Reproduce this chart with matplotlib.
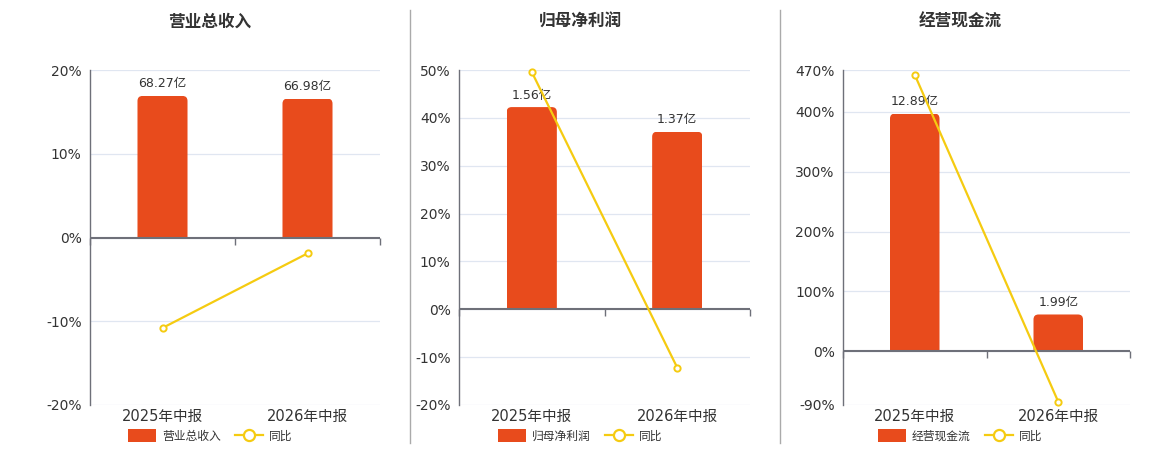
import matplotlib
matplotlib.use("Agg")
import matplotlib.pyplot as plt
from matplotlib.patches import Patch, FancyBboxPatch, Rectangle
from matplotlib.lines import Line2D

plt.rcParams['font.family'] = ['DejaVu Sans', 'Noto Sans CJK SC']

# 数据
periods = ['2025年中报', '2026年中报']
titles = ['营业总收入', '归母净利润', '经营现金流']
bar_values = [[68.27, 66.98], [1.56, 1.37], [12.89, 1.99]]
bar_labels = [['68.27亿', '66.98亿'], ['1.56亿', '1.37亿'], ['12.89亿', '1.99亿']]
yoy_values = [[-10.8, -1.9], [49.6, -12.2], [462.0, -84.6]]
pct_ticks = [[-20, -10, 0, 10, 20],
             [-20, -10, 0, 10, 20, 30, 40, 50],
             [-90, 0, 100, 200, 300, 400, 470]]

# 样式
BAR_COLOR = '#E84B1C'
LINE_COLOR = '#F5CB11'
AXIS_COLOR = '#6E7079'
GRID_COLOR = '#E0E6F1'
TEXT_COLOR = '#333333'

W, H = 1160, 450
panel_px = [(90, 380), (459, 750), (843, 1130)]
center_px = [210, 580, 960]
top_px, bottom_px = 70, 405
BAR_W = 0.345
RADIUS_PX = 5


def rounded_bars(ax, bars, px_w, px_h):
    """把普通柱子换成顶部圆角的柱子"""
    x0, x1 = ax.get_xlim()
    y0, y1 = ax.get_ylim()
    ux = (x1 - x0) / px_w
    uy = (y1 - y0) / px_h
    for b in bars:
        b.set_visible(False)
        bx, bw, bh = b.get_x(), b.get_width(), b.get_height()
        r = RADIUS_PX * ux
        p = FancyBboxPatch((bx, 0 - 2 * RADIUS_PX * uy), bw, bh + 2 * RADIUS_PX * uy,
                           boxstyle=f'round,pad=0,rounding_size={r}',
                           mutation_aspect=uy / ux, facecolor=b.get_facecolor(),
                           edgecolor='none')
        ax.add_patch(p)
        clip = Rectangle((bx, 0), bw, bh, transform=ax.transData)
        p.set_clip_path(clip)


fig = plt.figure(figsize=(W / 100, H / 100), dpi=100, facecolor='white')

for i in range(3):
    x0, x1 = panel_px[i]
    rect = [x0 / W, 1 - bottom_px / H, (x1 - x0) / W, (bottom_px - top_px) / H]
    ticks = pct_ticks[i]
    ymin, ymax = ticks[0], ticks[-1]

    # 底层：百分比坐标轴、网格
    ax = fig.add_axes(rect)
    ax.set_xlim(-0.5, 1.5)
    ax.set_ylim(ymin, ymax)
    ax.set_yticks(ticks)
    ax.set_yticklabels([f'{t}%' for t in ticks])
    ax.set_xticks(range(len(periods)))
    ax.set_xticklabels(periods)
    ax.tick_params(axis='x', length=0, labelsize=10.5, labelcolor=TEXT_COLOR, pad=3)
    ax.tick_params(axis='y', length=0, labelsize=10, labelcolor=TEXT_COLOR, pad=6)
    ax.grid(axis='y', color=GRID_COLOR, linewidth=0.9)
    for s in ['top', 'right', 'bottom']:
        ax.spines[s].set_visible(False)
    ax.spines['left'].set_color(AXIS_COLOR)
    ax.spines['left'].set_linewidth(1)

    # 中层：柱子（隐藏刻度，零点与百分比轴对齐）
    ax2 = ax.twinx()
    k = 0.845 * ymax / max(bar_values[i])
    ax2.set_ylim(ymin / k, ymax / k)
    ax2.axis('off')
    bars = ax2.bar(range(len(periods)), bar_values[i], width=BAR_W, color=BAR_COLOR)
    rounded_bars(ax2, bars, x1 - x0, bottom_px - top_px)
    for b, lab in zip(bars, bar_labels[i]):
        ax2.annotate(lab, (b.get_x() + b.get_width() / 2, b.get_height()),
                     xytext=(0, 4), textcoords='offset points',
                     ha='center', va='bottom', fontsize=9, color=TEXT_COLOR)

    # 顶层：零轴线与同比折线
    ax3 = ax.twinx()
    ax3.set_ylim(ymin, ymax)
    ax3.axis('off')
    ax3.axhline(0, color=AXIS_COLOR, linewidth=1.5)
    ax3.plot([-0.5, 0.5, 1.5], [0, 0, 0], linestyle='none', marker=3,
             markersize=5, color=AXIS_COLOR, clip_on=False)
    ax3.plot(range(len(periods)), yoy_values[i], color=LINE_COLOR, linewidth=1.6,
             marker='o', markersize=4.5, markerfacecolor='white',
             markeredgecolor=LINE_COLOR, markeredgewidth=1.4, clip_on=False)

    fig.text(center_px[i] / W, 1 - 22 / H, titles[i], ha='center', va='center',
             fontsize=12, fontweight='bold', color=TEXT_COLOR)

    handles = [Patch(facecolor=BAR_COLOR, edgecolor='none'),
               Line2D([], [], color=LINE_COLOR, linewidth=1.6, marker='o',
                      markersize=8, markerfacecolor='white', markeredgewidth=1.6)]
    fig.legend(handles, [titles[i], '同比'], loc='center',
               bbox_to_anchor=(center_px[i] / W, 1 - 436 / H), ncol=2, frameon=False,
               fontsize=8.5, handlelength=2.4, handleheight=1.3, columnspacing=1.2,
               handletextpad=0.5, labelcolor='#333333')

# 分隔线
for xp in [410, 780]:
    fig.add_artist(Line2D([xp / W, xp / W], [1 - 10 / H, 1 - 443 / H],
                          color='#AAAAAA', linewidth=1))

fig.savefig('out.png', dpi=100, facecolor='white')
